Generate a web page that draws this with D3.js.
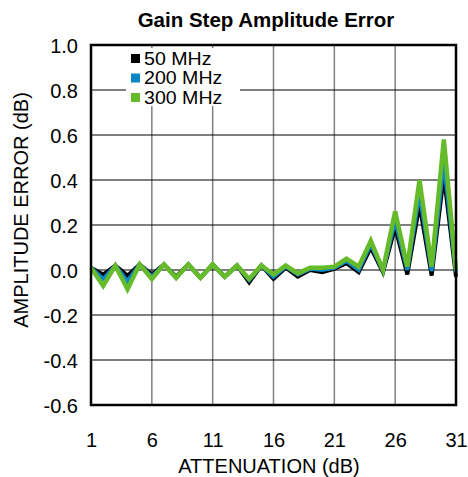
<!DOCTYPE html>
<html><head><meta charset="utf-8">
<script src="https://cdn.jsdelivr.net/npm/d3@7"></script>
<style>body{margin:0;background:#fff}svg{display:block}text{font-family:Arial,"Liberation Sans",sans-serif}</style>
</head><body><svg id="c" width="468" height="477"></svg>
<script>
const attenuation = d3.range(1, 32);
const mhz50  = [0.01,-0.02,0.02,-0.025,0.025,-0.02,0.025,-0.03,0.025,-0.035,0.025,-0.03,0.02,-0.055,0.02,-0.04,0.01,-0.03,0.0,-0.01,0.005,0.03,-0.01,0.10,-0.01,0.19,-0.02,0.29,-0.025,0.42,-0.03];
const mhz200 = [0.01,-0.04,0.02,-0.05,0.025,-0.03,0.025,-0.035,0.025,-0.035,0.025,-0.03,0.02,-0.045,0.02,-0.03,0.015,-0.02,0.005,0.0,0.01,0.04,0.0,0.115,-0.005,0.22,0.0,0.34,-0.005,0.48,-0.01];
const mhz300 = [0.01,-0.07,0.02,-0.085,0.025,-0.04,0.025,-0.035,0.025,-0.035,0.025,-0.03,0.02,-0.04,0.02,-0.02,0.02,-0.015,0.01,0.01,0.015,0.05,0.015,0.13,0.0,0.26,0.015,0.40,0.015,0.58,0.0];
const xTicks = [1,6,11,16,21,26,31];
const yTicks = [-0.6,-0.4,-0.2,0.0,0.2,0.4,0.6,0.8,1.0];
const seriesNames = ["50 MHz","200 MHz","300 MHz"];
const seriesColors = ["#000000","#0a86c4","#66bb2b"];
const seriesData = [mhz50, mhz200, mhz300];

const FONT = "Arial,'Liberation Sans',sans-serif";
const svg = d3.select("#c");
const L = 91, R = 456, T = 45, B = 405;
const x = d3.scaleLinear().domain([1,31]).range([L,R]);
const y = d3.scaleLinear().domain([-0.6,1.0]).range([B,T]);

// grid
svg.append("g").selectAll("line").data(xTicks.slice(1,-1)).join("line")
  .attr("x1",d=>x(d)).attr("x2",d=>x(d)).attr("y1",T).attr("y2",B)
  .attr("stroke","#808080").attr("stroke-width",1.5);
svg.append("g").selectAll("line").data(yTicks.slice(1,-1)).join("line")
  .attr("x1",L).attr("x2",R).attr("y1",d=>y(d)).attr("y2",d=>y(d))
  .attr("stroke","#000").attr("stroke-width",1.2);

// legend background
const lg = svg.append("g");
lg.append("rect").attr("x",126).attr("y",48).attr("width",114).attr("height",58).attr("fill","#fff");

// lines
const line = d3.line().x((d,i)=>x(attenuation[i])).y(d=>y(d));
seriesData.forEach((s,k)=>{
  svg.append("path").datum(s).attr("d",line).attr("fill","none")
    .attr("stroke",seriesColors[k]).attr("stroke-width",k===2?4.5:4).attr("stroke-linejoin","miter");
});

// frame
svg.append("rect").attr("x",L).attr("y",T).attr("width",R-L).attr("height",B-T)
  .attr("fill","none").attr("stroke","#000").attr("stroke-width",2.5);

// legend items
seriesNames.forEach((n,i)=>{
  const yy = 58 + i*19.5;
  lg.append("rect").attr("x",131).attr("y",yy-4).attr("width",9).attr("height",9).attr("fill",seriesColors[i]);
  lg.append("text").attr("transform",`translate(144,${yy+6.5}) scale(1.12,1)`).attr("font-size",17.5).text(n);
});

// axes labels
const fmtY = d => d3.format(".1f")(d).replace("\u2212","-");
const xAxis = d3.axisBottom(x).tickValues(xTicks).tickSize(0).tickPadding(0).tickFormat(d3.format("d"));
const gx = svg.append("g").attr("transform",`translate(0,${B})`).call(xAxis);
gx.select(".domain").remove();
gx.selectAll("text").attr("y",42).attr("dy",0).attr("font-size",20).attr("font-family",FONT).attr("fill","#000");

const yAxis = d3.axisLeft(y).tickValues(yTicks).tickSize(0).tickPadding(0).tickFormat(fmtY);
const gy = svg.append("g").attr("transform",`translate(${L},0)`).call(yAxis);
gy.select(".domain").remove();
gy.selectAll("text").attr("x",-13).attr("dy","0.36em").attr("font-size",20).attr("font-family",FONT).attr("fill","#000");

svg.append("text").attr("x",266).attr("y",27).attr("text-anchor","middle").attr("font-size",20.5).attr("font-weight","bold").text("Gain Step Amplitude Error");
svg.append("text").attr("x",269).attr("y",473).attr("text-anchor","middle").attr("font-size",20).text("ATTENUATION (dB)");
svg.append("text").attr("transform","translate(28,210) rotate(-90)").attr("text-anchor","middle").attr("font-size",20).text("AMPLITUDE ERROR (dB)");
</script></body></html>
